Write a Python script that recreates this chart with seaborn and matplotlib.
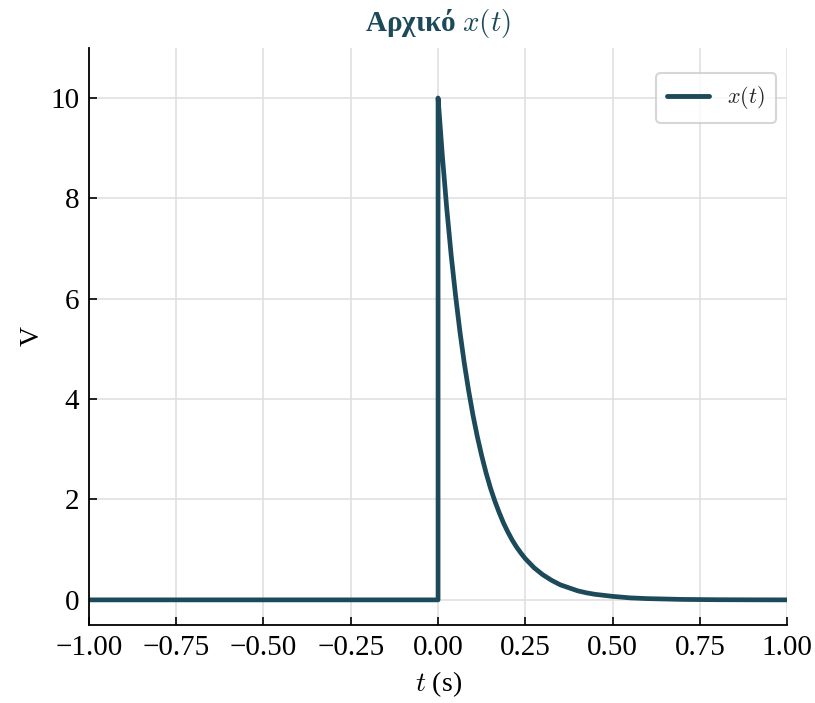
import numpy as np
import pandas as pd
import matplotlib
matplotlib.use("Agg")
import matplotlib.pyplot as plt
import seaborn as sns

# Values
t_vals = [-1.0, 0.0, 0.0, 0.0125, 0.025, 0.0375, 0.05, 0.0625, 0.075, 0.0875, 0.1,
          0.1125, 0.125, 0.1375, 0.15, 0.1625, 0.175, 0.1875, 0.2, 0.2125, 0.225,
          0.2375, 0.25, 0.275, 0.3, 0.325, 0.35, 0.375, 0.4, 0.425, 0.45, 0.5,
          0.55, 0.6, 0.7, 0.8, 0.9, 1.0]
x_vals = [0.0, 0.0, 10.0, 8.83, 7.79, 6.87, 6.07, 5.35, 4.72, 4.17, 3.68,
          3.25, 2.87, 2.53, 2.23, 1.97, 1.74, 1.53, 1.35, 1.19, 1.05,
          0.93, 0.82, 0.64, 0.50, 0.39, 0.30, 0.24, 0.18, 0.14, 0.11, 0.07,
          0.04, 0.025, 0.009, 0.003, 0.001, 0.0]
x_ticks = [-1.0, -0.75, -0.5, -0.25, 0.0, 0.25, 0.5, 0.75, 1.0]
y_ticks = [0, 2, 4, 6, 8, 10]

df = pd.DataFrame({"t": t_vals, "x": x_vals, "series": "$x(t)$"})

sns.set_theme(style="whitegrid")
plt.rcParams["font.family"] = ["Liberation Serif", "DejaVu Serif"]
plt.rcParams["mathtext.fontset"] = "cm"

color = "#1c4a5a"
fig = plt.figure(figsize=(8.15, 7.03), dpi=100)
ax = fig.add_axes([0.109, 0.111, 0.857, 0.821])
sns.lineplot(data=df, x="t", y="x", hue="series", palette=[color],
             estimator=None, sort=False, linewidth=3.4, ax=ax)

ax.set_xlim(-1.0, 1.0)
ax.set_ylim(-0.5, 11.0)
ax.set_xticks(x_ticks)
ax.set_yticks(y_ticks)
ax.set_xticklabels([f"{v:.2f}".replace("-", "\u2212") for v in x_ticks])
ax.set_yticklabels([str(v) for v in y_ticks])
ax.tick_params(axis="both", direction="in", length=6, width=1.2, colors="black",
               labelsize=21, pad=7, bottom=True, left=True)
ax.grid(True, color="#e0e0e0", linewidth=1.2)
for s in ["top", "right"]:
    ax.spines[s].set_visible(False)
for s in ["left", "bottom"]:
    ax.spines[s].set_color("black")
    ax.spines[s].set_linewidth(1.3)

ax.set_xlabel("$t$ (s)", fontsize=20, color="black", labelpad=6)
ax.set_ylabel("V", fontsize=20, color="black", labelpad=4)
ax.set_title("Αρχικό $x(t)$", fontsize=21, fontweight="bold", color=color, pad=12)

leg = ax.legend(loc="upper right", fontsize=16, frameon=True, fancybox=True,
                handlelength=1.9, borderpad=0.5, bbox_to_anchor=(1.0, 0.975))
leg.get_frame().set_edgecolor("#cccccc")
leg.get_frame().set_linewidth(1.5)
for h in leg.get_lines():
    h.set_linewidth(3.5)

fig.savefig("out.png", dpi=100)
